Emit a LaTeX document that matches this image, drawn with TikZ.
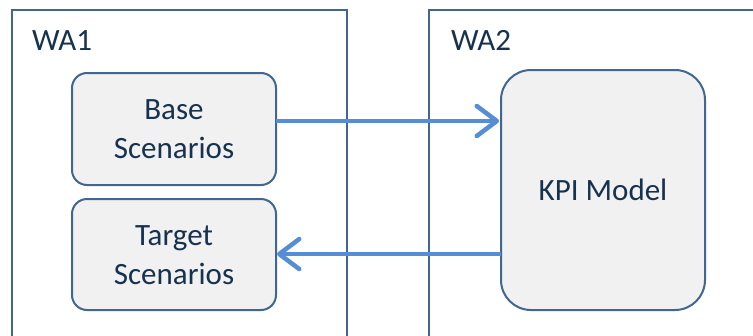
\documentclass[tikz,border=0pt]{standalone}
\usepackage{fontspec}
\setmainfont{Carlito}
\usetikzlibrary{arrows.meta}
\definecolor{bordc}{HTML}{41668F}
\definecolor{txtc}{HTML}{17324F}
\definecolor{arrc}{HTML}{558ED5}
\definecolor{fillc}{HTML}{F1F1F1}
\tikzset{
  wabox/.style={draw=bordc, line width=2pt},
  procbox/.style={draw=bordc, line width=2pt, fill=fillc, rounded corners=#1},
  procbox/.default=15pt,
  lbl/.style={text=txtc, font=\fontsize{31}{39}\selectfont, align=center, inner sep=0pt},
  flow/.style={draw=arrc, line width=4.5pt, -{Straight Barb[length=20pt,width=30pt,line cap=round,line join=round]}}
}
\begin{document}
\begin{tikzpicture}[x=1pt,y=1pt]
\useasboundingbox (0,0) rectangle (753,-335);
\clip (0,0) rectangle (753,-335);
\fill[white] (0,0) rectangle (753,-335);
% work areas
\draw[wabox] (11.5,-10) rectangle (347,-345);
\draw[wabox] (429,-9.5) rectangle (770,-345);
\node[lbl, anchor=base west] (wa1) at (32,-50) {WA1};
\node[lbl, anchor=base west] (wa2) at (451,-50) {WA2};
% boxes
\draw[procbox] (72,-73) rectangle (276,-185);
\node[lbl] (base) at (174,-129) {Base\\Scenarios};
\coordinate (baseE) at (276,-121);
\draw[procbox] (72,-199) rectangle (276,-310);
\node[lbl] (target) at (174,-255) {Target\\Scenarios};
\coordinate (targetE) at (277,-254);
\draw[procbox=30pt] (501,-70) rectangle (705,-310);
\node[lbl] (kpi) at (603,-190) {KPI Model};
\coordinate (kpiW1) at (499,-121);
\coordinate (kpiW2) at (501,-254);
% connectors
\draw[flow] (baseE) -- (kpiW1);
\draw[flow] (kpiW2) -- (targetE);
\end{tikzpicture}
\end{document}
